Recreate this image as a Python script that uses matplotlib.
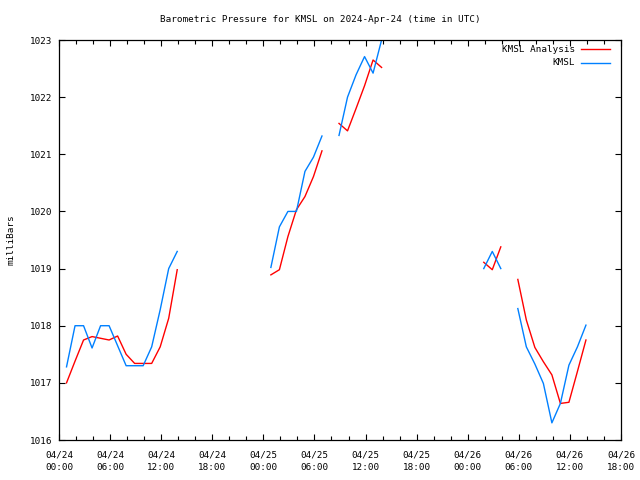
import numpy as np
import pandas as pd
import matplotlib
matplotlib.use("Agg")
import matplotlib.pyplot as plt
import matplotlib.dates as mdates
from matplotlib.lines import Line2D

nan = np.nan

# hourly observation times (hh:53 UTC), 2024-04-24 00:53 .. 2024-04-26 13:53
START_TIME = "2024-04-24 00:53"
N_HOURS = 62

# KMSL observed pressure (mb), nan = missing
kmsl = [
    1017.28, 1018.00, 1018.00, 1017.61, 1018.00, 1018.00, 1017.65, 1017.30,
    1017.30, 1017.30, 1017.63, 1018.28, 1019.00, 1019.30, nan, nan,
    nan, nan, nan, nan, nan, nan, nan, nan,
    1019.02, 1019.73, 1020.00, 1020.00, 1020.70, 1020.95, 1021.32, nan,
    1021.33, 1022.00, 1022.39, 1022.71, 1022.42, 1023.00, nan, nan,
    nan, nan, nan, nan, nan, nan, nan, nan,
    nan, 1019.00, 1019.30, 1019.00, nan, 1018.30, 1017.63, 1017.33,
    1016.99, 1016.30, 1016.64, 1017.31, 1017.63, 1018.01,
]

# KMSL analysis pressure (mb)
kmsl_analysis = [
    1017.00, 1017.38, 1017.75, 1017.81, 1017.78, 1017.75, 1017.82, 1017.50,
    1017.34, 1017.34, 1017.34, 1017.63, 1018.13, 1018.98, nan, nan,
    nan, nan, nan, nan, nan, nan, nan, nan,
    1018.89, 1018.98, 1019.56, 1020.03, 1020.26, 1020.61, 1021.06, nan,
    1021.54, 1021.41, 1021.80, 1022.20, 1022.65, 1022.52, nan, nan,
    nan, nan, nan, nan, nan, nan, nan, nan,
    nan, 1019.11, 1018.98, 1019.38, nan, 1018.81, 1018.10, 1017.62,
    1017.37, 1017.14, 1016.64, 1016.66, 1017.20, 1017.75,
]

X_START = "2024-04-24 00:00"
X_END = "2024-04-26 18:00"
Y_MIN, Y_MAX = 1016, 1023

RED = "#ff0000"
BLUE = "#0080ff"
FONT = "DejaVu Sans Mono"
FS = 6.7


def main():
    times = pd.date_range(START_TIME, periods=N_HOURS, freq="h")

    fig = plt.figure(figsize=(6.4, 4.8), dpi=100)
    ax = fig.add_axes([59 / 640, 40 / 480, 562 / 640, 400 / 480])

    ax.plot(times, kmsl_analysis, color=RED, lw=1.0)
    ax.plot(times, kmsl, color=BLUE, lw=1.0)

    ax.set_xlim(pd.Timestamp(X_START), pd.Timestamp(X_END))
    ax.set_ylim(Y_MIN, Y_MAX)

    ax.xaxis.set_major_locator(mdates.HourLocator(byhour=[0, 6, 12, 18]))
    ax.xaxis.set_minor_locator(mdates.HourLocator(byhour=range(0, 24, 2)))
    ax.xaxis.set_major_formatter(mdates.DateFormatter("%m/%d\n%H:%M"))
    ax.set_yticks(range(Y_MIN, Y_MAX + 1))

    ax.tick_params(which="both", direction="in", top=True, right=True,
                   width=0.8, labelsize=FS, pad=5)
    ax.tick_params(axis="x", which="major", pad=7.5)
    ax.tick_params(which="major", length=4.5)
    ax.tick_params(which="minor", length=3)
    for lbl in ax.get_xticklabels():
        lbl.set_fontfamily(FONT)
        lbl.set_linespacing(1.45)
    for lbl in ax.get_yticklabels():
        lbl.set_fontfamily(FONT)
    for sp in ax.spines.values():
        sp.set_linewidth(0.9)

    ax.set_ylabel("milliBars", fontsize=FS, fontfamily=FONT, labelpad=10)
    fig.text(0.5, 1 - 20 / 480,
             "Barometric Pressure for KMSL on 2024-Apr-24 (time in UTC)",
             ha="center", va="center", fontsize=FS, fontfamily=FONT)

    # legend, gnuplot style: right aligned text then line sample
    entries = [("KMSL Analysis", RED), ("KMSL", BLUE)]
    for i, (name, col) in enumerate(entries):
        yy = 1 - (9.5 + 13.5 * i) / 400
        ax.text(1 - 46 / 562, yy, name, transform=ax.transAxes,
                ha="right", va="center", fontsize=FS, fontfamily=FONT)
        ax.add_line(Line2D([1 - 40 / 562, 1 - 11 / 562], [yy, yy],
                           transform=ax.transAxes, color=col, lw=1.0))

    fig.savefig("out.png", dpi=100)


if __name__ == "__main__":
    main()
